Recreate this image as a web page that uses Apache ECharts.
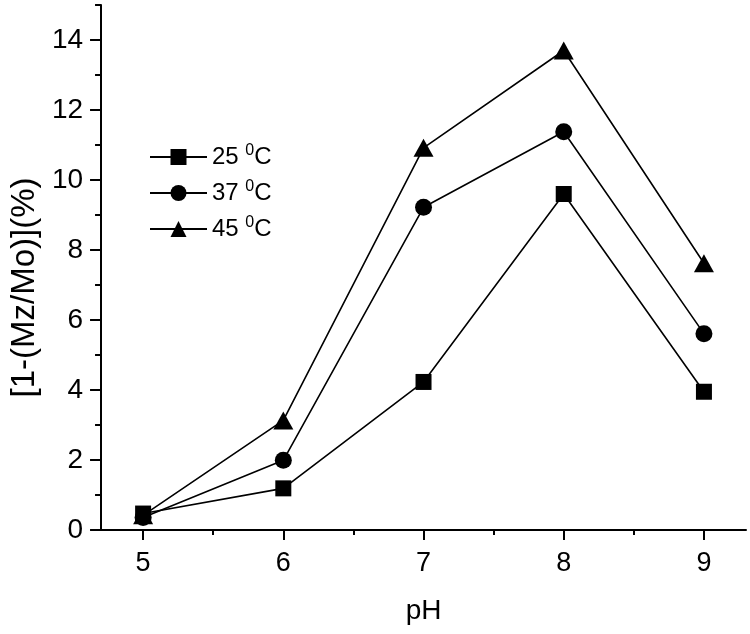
<!DOCTYPE html>
<html>
<head>
<meta charset="utf-8">
<script src="https://cdn.jsdelivr.net/npm/echarts@6/dist/echarts.min.js"></script>
<style>html,body{margin:0;padding:0;background:#fff}#c{width:750px;height:634px}</style>
</head>
<body>
<div id="c"></div>
<script>
const phValues = [5, 6, 7, 8, 9];
const t25 = [0.47, 1.19, 4.23, 9.6, 3.95];
const t37 = [0.36, 1.99, 9.22, 11.38, 5.61];
const t45 = [0.42, 3.13, 10.92, 13.7, 7.62];
const seriesNames = ['25', '37', '45'];
const yTicks = [0, 2, 4, 6, 8, 10, 12, 14];
const yMinorTicks = [1, 3, 5, 7, 9, 11, 13, 15];
const xTicks = [5, 6, 7, 8, 9];
const xMinorTicks = [5.5, 6.5, 7.5, 8.5];

const FONT = 'Liberation Sans';
const chart = echarts.init(document.getElementById('c'), null, {renderer: 'canvas'});
const toPairs = arr => phValues.map((x, i) => [x, arr[i]]);
const mk = (name, data, symbol, size) => ({
  name: name, type: 'line', data: toPairs(data), symbol: symbol, symbolSize: size,
  xAxisIndex: 0, yAxisIndex: 0,
  itemStyle: {color: '#000'}, lineStyle: {color: '#000', width: 1.6}, z: 3
});
const tickStyle = {color: '#000', width: 2};
chart.setOption({
  animation: false,
  backgroundColor: '#fff',
  textStyle: {fontFamily: FONT},
  grid: {left: 96, right: 4, top: 5, bottom: 104, containLabel: false},
  xAxis: [{
    type: 'value', min: 4.7, max: 9.3, interval: 0.5, position: 'bottom',
    name: 'pH', nameLocation: 'middle', nameGap: 67,
    nameTextStyle: {fontSize: 28, color: '#000', fontFamily: FONT},
    axisLine: {show: true, lineStyle: {color: '#000', width: 2}},
    axisTick: {show: true, length: 5, lineStyle: tickStyle, customValues: xMinorTicks},
    axisLabel: {fontSize: 27, color: '#000', margin: 20, fontFamily: FONT, customValues: xTicks},
    splitLine: {show: false}
  }, {
    type: 'value', min: 4.7, max: 9.3, interval: 0.5, position: 'bottom', offset: 0,
    axisLine: {show: false},
    axisTick: {show: true, length: 10, lineStyle: tickStyle, customValues: xTicks},
    axisLabel: {show: false},
    splitLine: {show: false}
  }],
  yAxis: [{
    type: 'value', min: 0, max: 15, interval: 1, position: 'left',
    name: '[1-(Mz/Mo)](%)', nameLocation: 'middle', nameGap: 60, nameRotate: 90,
    nameTextStyle: {fontSize: 33, color: '#000', fontFamily: FONT, padding: [0, 40, 0, 0]},
    axisLine: {show: true, lineStyle: {color: '#000', width: 2}},
    axisTick: {show: true, length: 6, lineStyle: tickStyle, customValues: yMinorTicks},
    axisLabel: {fontSize: 28, color: '#000', margin: 18, fontFamily: FONT, customValues: yTicks},
    splitLine: {show: false}
  }, {
    type: 'value', min: 0, max: 15, interval: 1, position: 'left', offset: 0,
    axisLine: {show: false},
    axisTick: {show: true, length: 11, lineStyle: tickStyle, customValues: yTicks},
    axisLabel: {show: false},
    splitLine: {show: false}
  }],
  legend: {
    orient: 'vertical', left: 149, top: 143, padding: 0,
    itemWidth: 57, itemHeight: 20, itemGap: 8,
    data: seriesNames,
    formatter: n => n + ' {s|0}C',
    textStyle: {fontSize: 24, color: '#000', fontFamily: FONT, lineHeight: 28,
      rich: {s: {fontSize: 16, verticalAlign: 'top', lineHeight: 28, fontFamily: FONT, padding: [0, 0, 12, 0]}}}
  },
  series: [
    mk('25', t25, 'rect', 16),
    mk('37', t37, 'circle', 17),
    mk('45', t45, 'triangle', [20, 18])
  ]
});
</script>
</body>
</html>
